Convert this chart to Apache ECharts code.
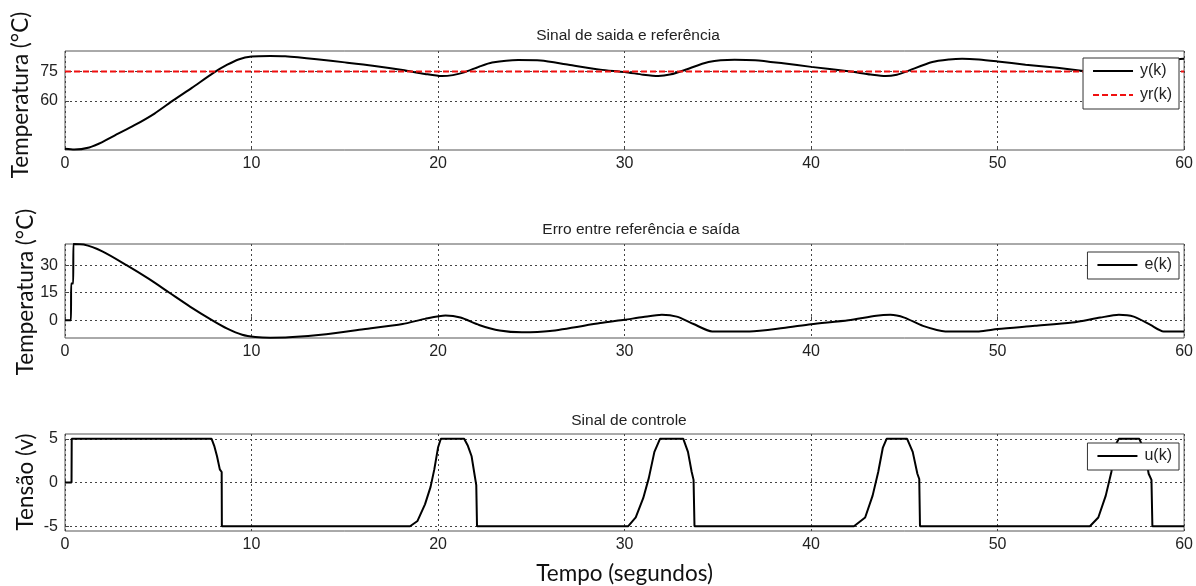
<!DOCTYPE html>
<html>
<head>
<meta charset="utf-8">
<title>Sinal de saida e referência</title>
<script src="https://cdn.jsdelivr.net/npm/echarts@6/dist/echarts.min.js"></script>
<style>
  html, body { margin: 0; background: #fff; }
  #main { width: 1196px; height: 586px; }
</style>
</head>
<body>
<div id="main"></div>
<script>
// saida y(k)
var yT    = [0, 0.5, 1.3, 2.0, 2.7, 3.7, 4.8, 5.8, 6.8, 8.0, 8.7, 9.3, 10.0, 11.0, 11.8, 13.5, 15.0, 16.5, 18.1, 19.3, 20.2, 20.8, 21.4, 22.2, 22.9, 24.3, 25.5, 27.0, 28.7, 30.0, 31.0, 31.8, 32.5, 33.2, 34.5, 35.9, 37.0, 38.5, 40.0, 42.0, 43.2, 44.0, 44.6, 45.1, 46.5, 47.4, 48.1, 49.0, 50.0, 51.5, 53.2, 54.7, 55.8, 56.5, 57.2, 57.9, 58.8, 60.0];
var yVals = [35.6, 35.2, 36.3, 39.0, 42.6, 47.5, 53.6, 60.3, 66.7, 74.6, 78.5, 81.2, 82.7, 83.0, 82.8, 81.3, 79.7, 78.0, 75.8, 73.8, 72.7, 73.2, 74.6, 77.5, 79.6, 80.9, 80.7, 78.5, 76.0, 74.8, 73.4, 72.7, 73.6, 75.7, 79.9, 81.1, 80.8, 79.2, 77.4, 75.2, 73.5, 72.7, 73.4, 75.0, 79.9, 81.2, 81.6, 81.2, 80.2, 78.5, 76.9, 75.2, 73.7, 72.8, 74.0, 77.5, 80.5, 81.5];
// referencia yr(k)
var refT    = [0, 60];
var refVals = [75, 75];
// erro e(k)
var eT    = [0, 0.32, 0.33, 0.44, 0.45, 1.0, 2.0, 3.3, 4.5, 5.6, 6.7, 7.9, 8.7, 9.5, 10.2, 11.0, 12.0, 14.0, 16.0, 18.1, 19.3, 20.4, 21.2, 22.2, 23.3, 24.5, 26.0, 28.7, 30.0, 31.0, 32.0, 32.8, 33.7, 34.7, 36.7, 38.5, 40.0, 42.0, 43.5, 44.25, 45.0, 46.0, 47.2, 49.0, 50.0, 52.0, 54.0, 55.5, 56.5, 57.3, 58.2, 58.9, 60.0];
var eVals = [0, 0, 20, 20, 41.5, 41.2, 37.5, 30, 22.5, 15, 7.5, 0, -4.5, -7.8, -9.0, -9.4, -9.2, -7.5, -4.8, -2.0, 0.8, 2.6, 1.5, -2.5, -5.5, -6.5, -5.8, -1.5, 0.3, 1.8, 3.0, 2.0, -2.0, -6.0, -6.0, -4.2, -2.1, 0, 2.5, 3.0, 1.5, -3.0, -6.0, -6.0, -4.7, -3.0, -1.2, 1.5, 3.0, 2.0, -2.5, -6.0, -6.0];
// controle u(k)
var uT    = [0, 0.35, 0.36, 7.86, 8.0, 8.15, 8.3, 8.4, 8.41, 18.5, 18.9, 19.3, 19.6, 19.8, 20.0, 20.15, 21.4, 21.6, 21.8, 21.95, 22.05, 22.09, 30.2, 30.6, 31.0, 31.3, 31.6, 31.9, 33.15, 33.4, 33.6, 33.7, 33.75, 42.3, 42.9, 43.3, 43.6, 43.85, 44.05, 45.15, 45.45, 45.7, 45.8, 45.84, 54.95, 55.4, 55.8, 56.1, 56.3, 56.5, 57.6, 57.9, 58.1, 58.25, 58.3, 60.0];
var uVals = [0, 0, 5, 5, 4.2, 3.0, 1.5, 1.2, -5, -5, -4.4, -2.5, -0.5, 1.5, 4.0, 5, 5, 4.2, 3.0, 1.0, -0.3, -5, -5, -4.0, -1.8, 0.5, 3.5, 5, 5, 3.5, 1.2, 0.3, -5, -5, -4.0, -1.5, 1.2, 4.0, 5, 5, 3.5, 1.0, 0.4, -5, -5, -4.0, -1.5, 1.2, 4.2, 5, 5, 3.5, 1.0, 0.3, -5, -5];

var yTicksTop = [60, 75];
var yTicksErr = [0, 15, 30];
var yTicksU   = [-5, 0, 5];

function pairs(t, v) {
  return t.map(function (x, i) { return [x, v[i]]; });
}

var chart = echarts.init(document.getElementById('main'));

var tickFont = { fontFamily: 'Liberation Sans, Arial', fontSize: 16, color: '#222' };
var gridLine = { show: true, lineStyle: { color: '#444', width: 1, type: [2, 3] } };

function xAxisFor(idx, withName) {
  var ax = {
    type: 'value', gridIndex: idx, min: 0, max: 60, interval: 10,
    axisLine: { show: false },
    axisTick: { show: true, inside: true, length: 4, lineStyle: { color: '#444' } },
    axisLabel: Object.assign({ margin: 6 }, tickFont),
    splitLine: gridLine
  };
  if (withName) {
    ax.name = 'Tempo (segundos)';
    ax.nameLocation = 'middle';
    ax.nameGap = 31;
    ax.nameTextStyle = { fontFamily: 'Lato', fontSize: 22.5, color: '#111' };
  }
  return ax;
}

function yAxisFor(idx, min, max, ticks) {
  return {
    type: 'value', gridIndex: idx, min: min, max: max,
    axisLine: { show: false },
    axisTick: { show: true, inside: true, length: 4, lineStyle: { color: '#444' }, customValues: ticks },
    axisLabel: Object.assign({ margin: 7, customValues: ticks }, tickFont),
    splitLine: gridLine
  };
}

function legendFor(names, top) {
  return {
    data: names, orient: 'vertical', right: 17, top: top, z: 10,
    backgroundColor: '#fff', borderColor: '#333', borderWidth: 1, borderRadius: 0,
    padding: [5, 7, 6, 9], itemGap: 8, itemWidth: 40, itemHeight: 14,
    itemStyle: { opacity: 0 },
    textStyle: { fontFamily: 'Liberation Sans, Arial', fontSize: 16, color: '#222', padding: [0, 0, 0, 2] }
  };
}

var titleStyle = { fontFamily: 'Liberation Sans, Arial', fontSize: 15.5, fontWeight: 'normal', color: '#222' };
var axisNameStyle = { font: '22.5px Lato', fill: '#111', textAlign: 'center', textVerticalAlign: 'middle', align: 'center', verticalAlign: 'middle' };

var option = {
  animation: false,
  backgroundColor: '#fff',
  title: [
    { text: 'Sinal de saida e referência', left: 623, top: 23, textAlign: 'center', textStyle: titleStyle },
    { text: 'Erro entre referência e saída', left: 636, top: 217, textAlign: 'center', textStyle: titleStyle },
    { text: 'Sinal de controle', left: 624, top: 408, textAlign: 'center', textStyle: titleStyle }
  ],
  graphic: [
    { type: 'text', x: 21, y: 95, rotation: Math.PI / 2, style: Object.assign({ text: 'Temperatura (°C)' }, axisNameStyle) },
    { type: 'text', x: 26, y: 292, rotation: Math.PI / 2, style: Object.assign({ text: 'Temperatura (°C)' }, axisNameStyle) },
    { type: 'text', x: 26, y: 482, rotation: Math.PI / 2, style: Object.assign({ text: 'Tensão (v)' }, axisNameStyle) }
  ],
  legend: [
    legendFor(['y(k)', 'yr(k)'], 58),
    legendFor(['e(k)'], 252),
    legendFor(['u(k)'], 443)
  ],
  grid: [
    { left: 65, right: 11, top: 51, height: 99, show: true, borderColor: '#555', borderWidth: 1 },
    { left: 65, right: 11, top: 244, height: 94, show: true, borderColor: '#555', borderWidth: 1 },
    { left: 65, right: 11, top: 434, height: 99, show: true, borderColor: '#555', borderWidth: 1 }
  ],
  xAxis: [xAxisFor(0, false), xAxisFor(1, false), xAxisFor(2, true)],
  yAxis: [
    yAxisFor(0, 35, 85.5, yTicksTop),
    yAxisFor(1, -9.6, 41.5, yTicksErr),
    yAxisFor(2, -5.55, 5.55, yTicksU)
  ],
  series: [
    { name: 'y(k)', type: 'line', xAxisIndex: 0, yAxisIndex: 0, data: pairs(yT, yVals),
      showSymbol: false, symbol: 'none', smooth: 0.25,
      lineStyle: { color: '#000', width: 2 }, itemStyle: { color: '#000' } },
    { name: 'yr(k)', type: 'line', xAxisIndex: 0, yAxisIndex: 0, data: pairs(refT, refVals),
      showSymbol: false, symbol: 'none',
      lineStyle: { color: '#f01010', width: 2, type: [6, 3] }, itemStyle: { color: '#f01010' } },
    { name: 'e(k)', type: 'line', xAxisIndex: 1, yAxisIndex: 1, data: pairs(eT, eVals),
      showSymbol: false, symbol: 'none', smooth: 0.25,
      lineStyle: { color: '#000', width: 2 }, itemStyle: { color: '#000' } },
    { name: 'u(k)', type: 'line', xAxisIndex: 2, yAxisIndex: 2, data: pairs(uT, uVals),
      showSymbol: false, symbol: 'none',
      lineStyle: { color: '#000', width: 2 }, itemStyle: { color: '#000' } }
  ]
};

chart.setOption(option);
</script>
</body>
</html>
